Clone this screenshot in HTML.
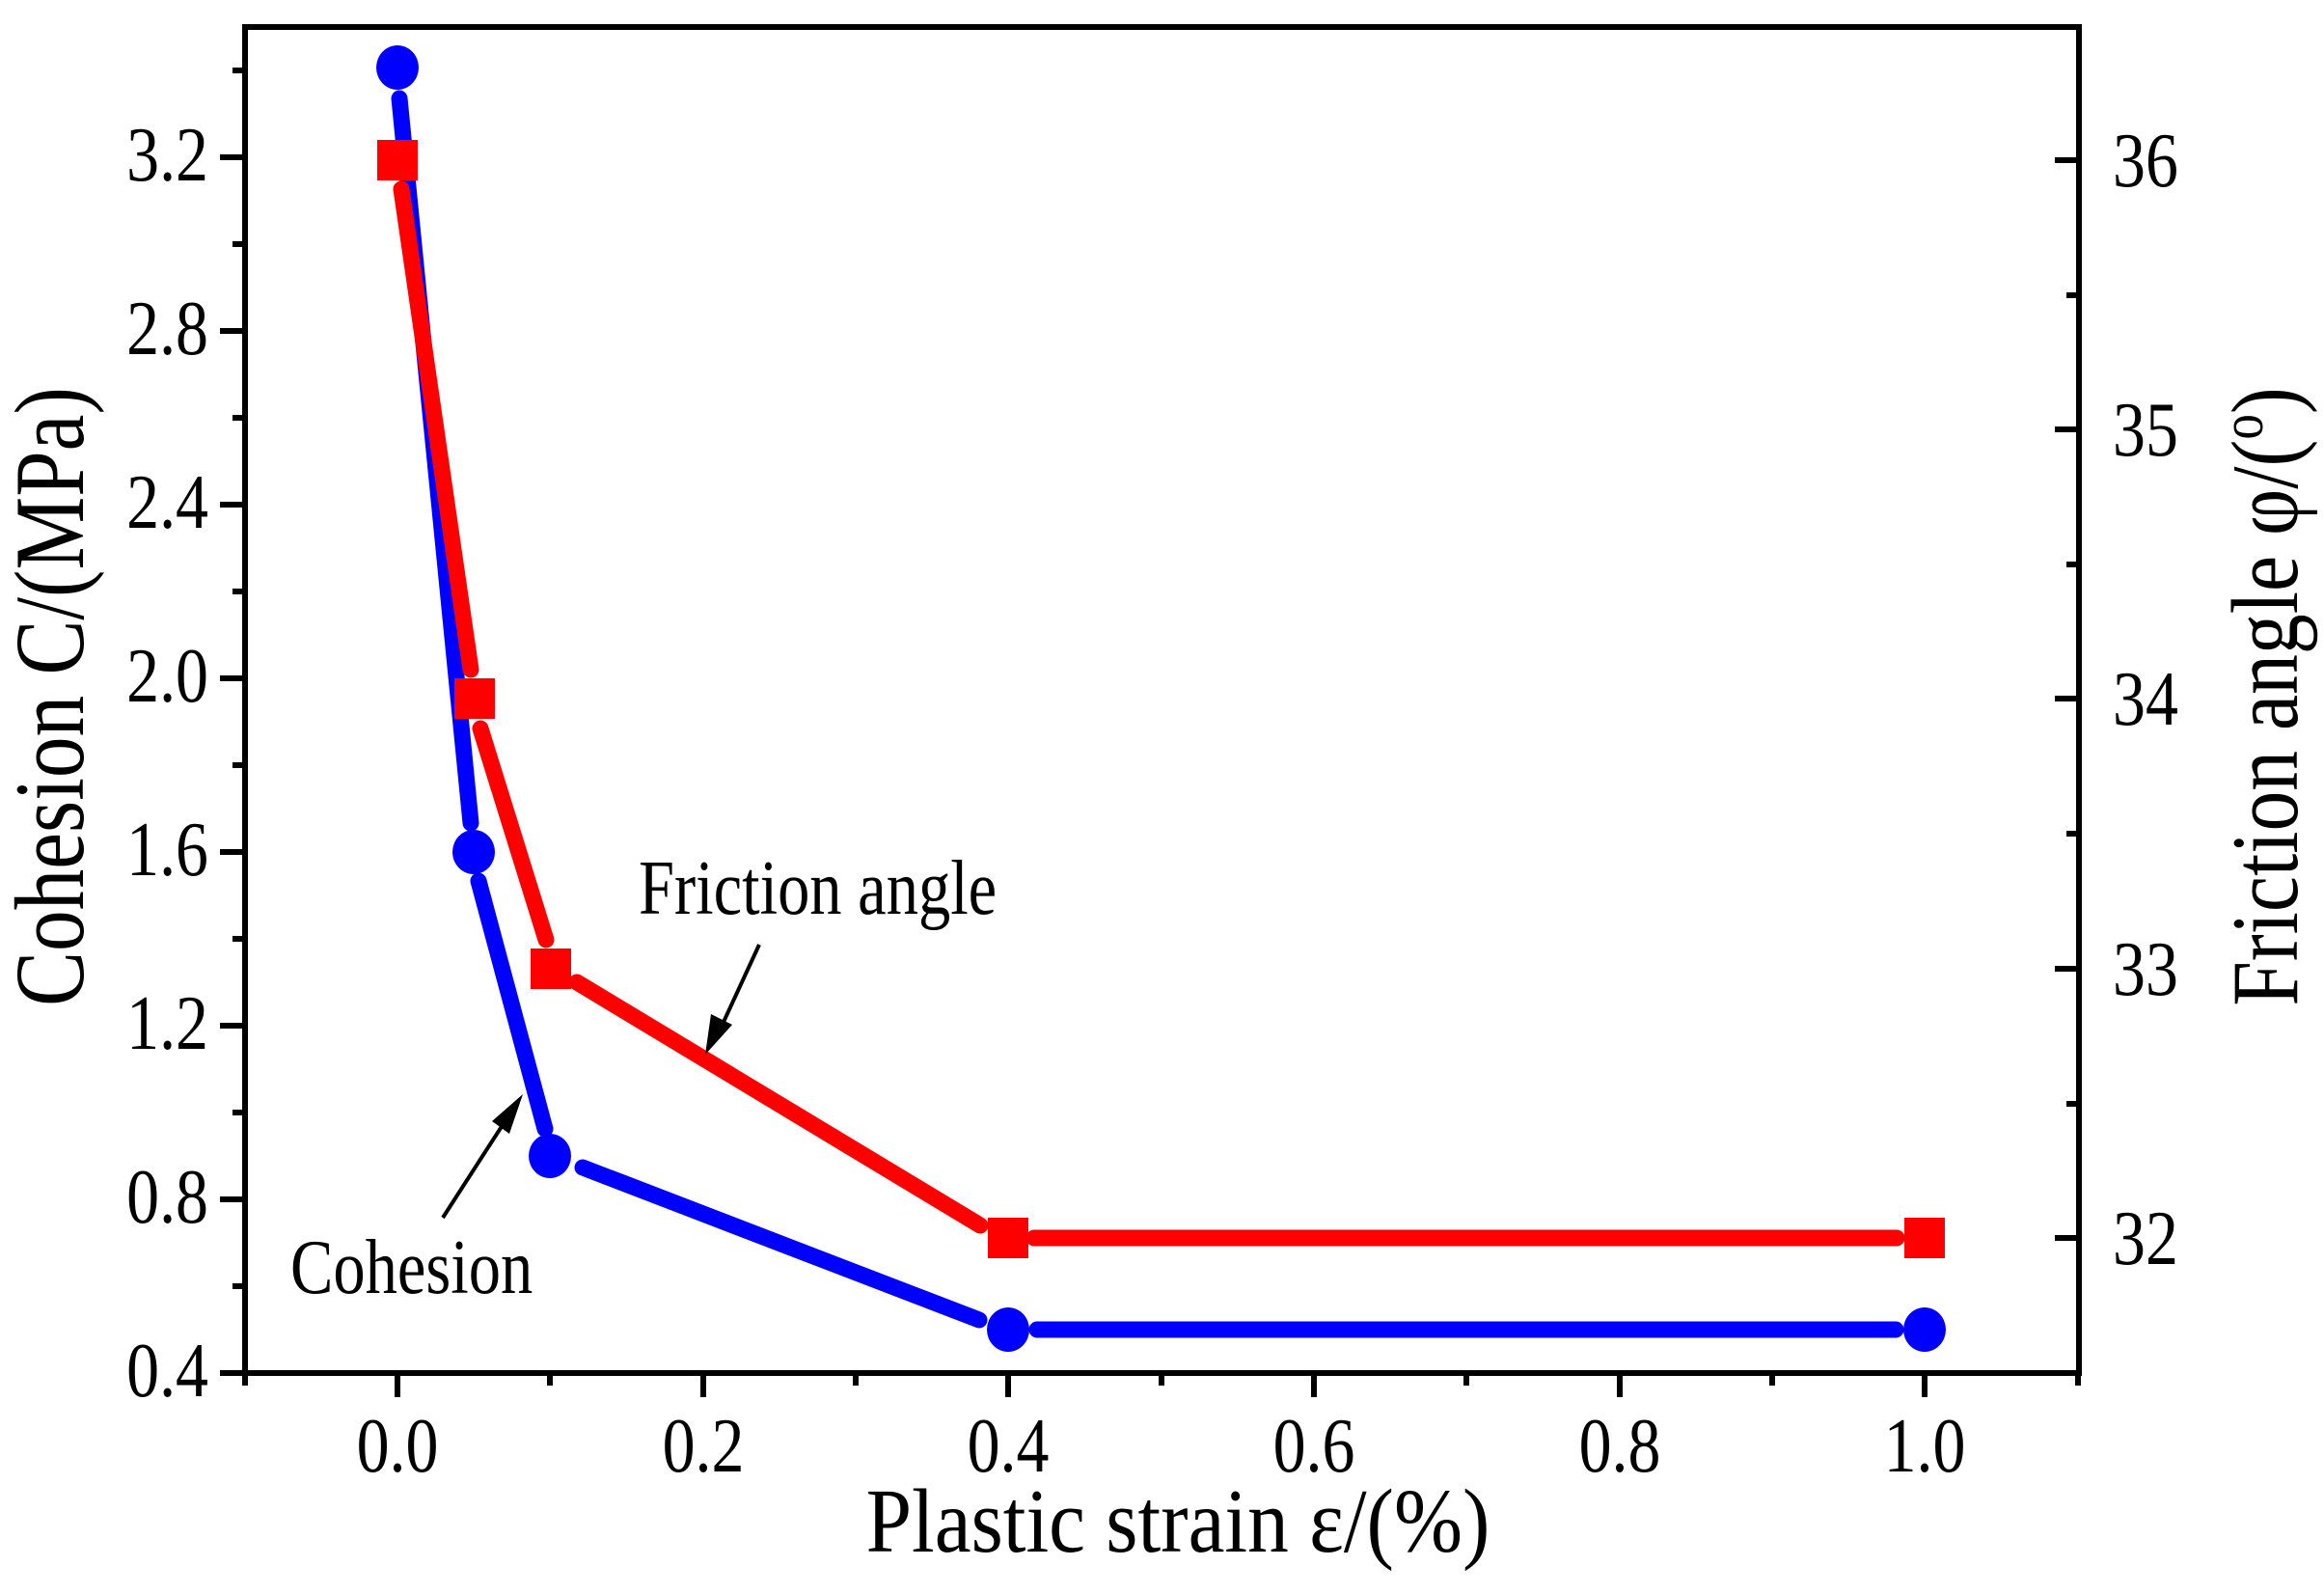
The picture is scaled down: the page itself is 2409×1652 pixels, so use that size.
<!DOCTYPE html>
<html><head><meta charset="utf-8"><style>
html,body{margin:0;padding:0;background:#fff;}
svg{display:block;}
text{font-family:"Liberation Serif","Times New Roman",serif;fill:#000;}
</style></head><body>
<svg width="2409" height="1652" viewBox="0 0 2409 1652" xmlns="http://www.w3.org/2000/svg">
<rect x="254" y="28" width="1901" height="1395" fill="none" stroke="#000" stroke-width="6"/>
<g stroke="#000" stroke-width="6">
<line x1="412" y1="1423" x2="412" y2="1448"/>
<line x1="729" y1="1423" x2="729" y2="1448"/>
<line x1="1045" y1="1423" x2="1045" y2="1448"/>
<line x1="1362" y1="1423" x2="1362" y2="1448"/>
<line x1="1679" y1="1423" x2="1679" y2="1448"/>
<line x1="1995" y1="1423" x2="1995" y2="1448"/>
<line x1="254" y1="1423" x2="254" y2="1436"/>
<line x1="570" y1="1423" x2="570" y2="1436"/>
<line x1="887" y1="1423" x2="887" y2="1436"/>
<line x1="1204" y1="1423" x2="1204" y2="1436"/>
<line x1="1520" y1="1423" x2="1520" y2="1436"/>
<line x1="1837" y1="1423" x2="1837" y2="1436"/>
<line x1="2154" y1="1423" x2="2154" y2="1436"/>
<line x1="228" y1="1423" x2="254" y2="1423"/>
<line x1="228" y1="1243" x2="254" y2="1243"/>
<line x1="228" y1="1063" x2="254" y2="1063"/>
<line x1="228" y1="883" x2="254" y2="883"/>
<line x1="228" y1="703" x2="254" y2="703"/>
<line x1="228" y1="523" x2="254" y2="523"/>
<line x1="228" y1="343" x2="254" y2="343"/>
<line x1="228" y1="163" x2="254" y2="163"/>
<line x1="241" y1="1333" x2="254" y2="1333"/>
<line x1="241" y1="1153" x2="254" y2="1153"/>
<line x1="241" y1="973" x2="254" y2="973"/>
<line x1="241" y1="793" x2="254" y2="793"/>
<line x1="241" y1="613" x2="254" y2="613"/>
<line x1="241" y1="433" x2="254" y2="433"/>
<line x1="241" y1="253" x2="254" y2="253"/>
<line x1="241" y1="73" x2="254" y2="73"/>
<line x1="2130" y1="1283" x2="2155" y2="1283"/>
<line x1="2130" y1="1004" x2="2155" y2="1004"/>
<line x1="2130" y1="724" x2="2155" y2="724"/>
<line x1="2130" y1="445" x2="2155" y2="445"/>
<line x1="2130" y1="166" x2="2155" y2="166"/>
<line x1="2142" y1="1144" x2="2155" y2="1144"/>
<line x1="2142" y1="864" x2="2155" y2="864"/>
<line x1="2142" y1="585" x2="2155" y2="585"/>
<line x1="2142" y1="306" x2="2155" y2="306"/>
</g>
<g font-size="70" text-anchor="end">
<text transform="translate(216,1447) scale(0.97,1.15)">0.4</text>
<text transform="translate(216,1267) scale(0.97,1.15)">0.8</text>
<text transform="translate(216,1087) scale(0.97,1.15)">1.2</text>
<text transform="translate(216,907) scale(0.97,1.15)">1.6</text>
<text transform="translate(216,727) scale(0.97,1.15)">2.0</text>
<text transform="translate(216,547) scale(0.97,1.15)">2.4</text>
<text transform="translate(216,367) scale(0.97,1.15)">2.8</text>
<text transform="translate(216,187) scale(0.97,1.15)">3.2</text>
</g>
<g font-size="70" text-anchor="start">
<text transform="translate(2190,1310) scale(0.97,1.15)">32</text>
<text transform="translate(2190,1031) scale(0.97,1.15)">33</text>
<text transform="translate(2190,751) scale(0.97,1.15)">34</text>
<text transform="translate(2190,472) scale(0.97,1.15)">35</text>
<text transform="translate(2190,193) scale(0.97,1.15)">36</text>
</g>
<g font-size="70" text-anchor="middle">
<text transform="translate(412,1525) scale(0.97,1.15)">0.0</text>
<text transform="translate(729,1525) scale(0.97,1.15)">0.2</text>
<text transform="translate(1045,1525) scale(0.97,1.15)">0.4</text>
<text transform="translate(1362,1525) scale(0.97,1.15)">0.6</text>
<text transform="translate(1679,1525) scale(0.97,1.15)">0.8</text>
<text transform="translate(1995,1525) scale(0.97,1.15)">1.0</text>
</g>
<text transform="translate(1221,1608) scale(1.04,1.15)" font-size="82" text-anchor="middle">Plastic strain ε/(%)</text>
<text transform="translate(86,722) rotate(-90) scale(1.04,1.25)" font-size="82" text-anchor="middle">Cohesion C/(MPa)</text>
<text transform="translate(2381,722) rotate(-90) scale(1.02,1.2)" font-size="82" text-anchor="middle">Friction angle φ/(<tspan font-size="52" dy="-30">o</tspan><tspan dy="30">)</tspan></text>
<!-- cohesion series (below) -->
<g stroke="#0000ff" stroke-width="17" stroke-linecap="round" fill="none">
<line x1="414" y1="102" x2="488" y2="853"/>
<line x1="496" y1="913" x2="565" y2="1170"/>
<line x1="604" y1="1210" x2="1015" y2="1368"/>
<line x1="1075" y1="1378" x2="1965" y2="1378"/>
</g>
<g fill="#0000ff">
<ellipse cx="412" cy="70" rx="22" ry="23"/>
<ellipse cx="491" cy="883" rx="22" ry="23"/>
<ellipse cx="570" cy="1198" rx="22" ry="23"/>
<ellipse cx="1045" cy="1378" rx="22" ry="23"/>
<ellipse cx="1995" cy="1378" rx="22" ry="23"/>
</g>
<!-- friction series (on top) -->
<g stroke="#ff0000" stroke-width="17" stroke-linecap="round" fill="none">
<line x1="416" y1="196" x2="488" y2="694"/>
<line x1="498" y1="755" x2="566" y2="974"/>
<line x1="598" y1="1018" x2="1016" y2="1270"/>
<line x1="1072" y1="1283" x2="1966" y2="1283"/>
</g>
<g fill="#ff0000">
<rect x="391" y="145" width="42" height="42"/>
<rect x="471" y="703" width="42" height="42"/>
<rect x="550" y="983" width="42" height="42"/>
<rect x="1024" y="1262" width="42" height="42"/>
<rect x="1974" y="1262" width="42" height="42"/>
</g>
<text transform="translate(662,947) scale(0.95,1.15)" font-size="70">Friction angle</text>
<text transform="translate(301,1340) scale(0.95,1.15)" font-size="70">Cohesion</text>
<g stroke="#000" stroke-width="4">
<line x1="787" y1="979" x2="745" y2="1070"/>
<line x1="459" y1="1262" x2="528" y2="1155"/>
</g>
<polygon points="731,1093 737,1051 759,1062" fill="#000"/>
<polygon points="542,1134 528,1175 510,1162" fill="#000"/>
</svg>
</body></html>
